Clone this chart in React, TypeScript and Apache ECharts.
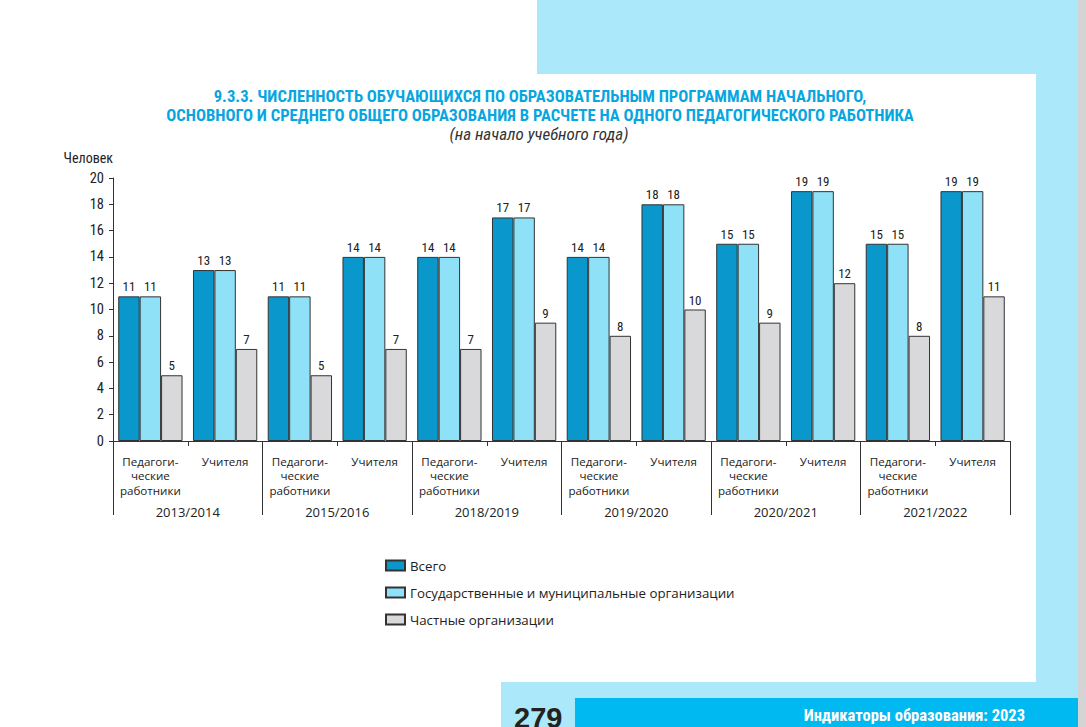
import React, { useEffect, useRef } from "react";
import * as echarts from "echarts";

const years = ["2013/2014", "2015/2016", "2018/2019", "2019/2020", "2020/2021", "2021/2022"];
const subCats = ["Педагоги-\nческие\nработники", "Учителя"];
const totalValues = [11, 13, 11, 14, 14, 17, 14, 18, 15, 19, 15, 19];
const publicValues = [11, 13, 11, 14, 14, 17, 14, 18, 15, 19, 15, 19];
const privateValues = [5, 7, 5, 7, 7, 9, 8, 10, 9, 12, 8, 11];
const seriesNames = ["Всего", "Государственные и муниципальные организации", "Частные организации"];
const yTicks = { min: 0, max: 20, interval: 2 };

const NARROW = "'Liberation Sans Narrow', 'Arial Narrow', 'Roboto Condensed', sans-serif";
const BODY = "'Open Sans', 'Noto Sans', sans-serif";

export default function App() {
  const ref = useRef<HTMLDivElement>(null);
  useEffect(() => {
    if (!ref.current) return;
    const chart = echarts.init(ref.current, undefined, { renderer: "svg" });
    const categories: string[] = [];
    years.forEach(() => subCats.forEach((s) => categories.push(s)));
    const colors = ["#0a98cc", "#8fe1f7", "#d9d9db"];
    const label = {
      show: true,
      position: "top" as const,
      distance: 3,
      fontSize: 13,
      color: "#222",
      fontFamily: NARROW,
    };
    const mk = (name: string, data: number[], i: number) => ({
      name,
      type: "bar" as const,
      data,
      xAxisIndex: 0,
      barGap: "0%",
      barCategoryGap: "14%",
      itemStyle: { color: colors[i], borderColor: "#333", borderWidth: 1 },
      label,
    });
    chart.setOption({
      animation: false,
      backgroundColor: "#ffffff",
      title: [
        {
          text: "9.3.3. ЧИСЛЕННОСТЬ ОБУЧАЮЩИХСЯ ПО ОБРАЗОВАТЕЛЬНЫМ ПРОГРАММАМ НАЧАЛЬНОГО,\nОСНОВНОГО И СРЕДНЕГО ОБЩЕГО ОБРАЗОВАНИЯ В РАСЧЕТЕ НА ОДНОГО ПЕДАГОГИЧЕСКОГО РАБОТНИКА",
          left: 540,
          top: 87,
          padding: 0,
          textAlign: "center",
          textStyle: {
            fontFamily: NARROW,
            fontWeight: "bold",
            fontSize: 16.6,
            lineHeight: 19,
            color: "#08a6e0",
          },
        },
        {
          text: "(на начало учебного года)",
          left: 539,
          top: 125.5,
          padding: 0,
          textAlign: "center",
          textStyle: {
            fontFamily: NARROW,
            fontStyle: "italic",
            fontWeight: "normal",
            fontSize: 17,
            lineHeight: 16,
            color: "#333",
          },
        },
      ],
      legend: {
        orient: "vertical",
        left: 380,
        top: 554,
        itemWidth: 19,
        itemHeight: 10,
        itemGap: 14,
        icon: "rect",
        textStyle: { fontFamily: BODY, fontSize: 13.3, color: "#222" },
        data: seriesNames,
      },
      grid: { left: 113, right: 76, top: 178, bottom: 286, containLabel: false },
      xAxis: [
        {
          type: "category",
          data: categories,
          axisLine: { lineStyle: { color: "#333", width: 1 } },
          axisTick: { show: true, length: 5, lineStyle: { color: "#333" } },
          axisLabel: {
            interval: 0,
            margin: 13,
            fontFamily: BODY,
            fontSize: 11.6,
            lineHeight: 14.4,
            color: "#222",
            verticalAlign: "top",
          },
        },
        {
          type: "category",
          data: years,
          position: "bottom",
          axisLine: { show: false },
          axisTick: { show: true, length: 74, lineStyle: { color: "#333" } },
          axisLabel: {
            interval: 0,
            margin: 64,
            fontFamily: BODY,
            fontSize: 13,
            color: "#222",
          },
        },
      ],
      yAxis: {
        type: "value",
        ...yTicks,
        name: "Человек",
        nameLocation: "end",
        nameGap: 13,
        nameTextStyle: { fontFamily: NARROW, fontSize: 14, color: "#222", align: "right", padding: [0, 0, 0, 0] },
        axisLine: { show: true, lineStyle: { color: "#333" } },
        axisTick: { show: true, length: 4, lineStyle: { color: "#333" } },
        splitLine: { show: false },
        axisLabel: { fontFamily: NARROW, fontSize: 14.5, color: "#222", margin: 9 },
      },
      series: [mk(seriesNames[0], totalValues, 0), mk(seriesNames[1], publicValues, 1), mk(seriesNames[2], privateValues, 2)],
      graphic: [
        { type: "rect", silent: true, z: -10, shape: { x: 537, y: 0, width: 541, height: 74 }, style: { fill: "#abe8f9" } },
        { type: "rect", silent: true, z: -10, shape: { x: 1036, y: 74, width: 42, height: 624 }, style: { fill: "#abe8f9" } },
        { type: "rect", silent: true, z: -10, shape: { x: 501, y: 682, width: 577, height: 45 }, style: { fill: "#abe8f9" } },
        { type: "rect", silent: true, z: -10, shape: { x: 575, y: 698, width: 503, height: 29 }, style: { fill: "#00b9f1" } },
        { type: "rect", silent: true, z: -10, shape: { x: 1078, y: 0, width: 8, height: 727 }, style: { fill: "#d4d4d4" } },
        {
          type: "text",
          silent: true,
          x: 1025,
          y: 715,
          style: {
            text: "Индикаторы образования: 2023",
            fill: "#ffffff",
            fontFamily: NARROW,
            fontWeight: "bold",
            fontSize: 16.5,
            align: "right",
            verticalAlign: "middle",
          },
        },
        {
          type: "text",
          silent: true,
          x: 514,
          y: 703,
          style: {
            text: "279",
            fill: "#222",
            fontFamily: "'Liberation Sans', sans-serif",
            fontWeight: "bold",
            fontSize: 29,
            align: "left",
            verticalAlign: "top",
          },
        },
      ],
    });
    return () => chart.dispose();
  }, []);
  return (
    <div
      ref={ref}
      style={{ position: "fixed", left: 0, top: 0, width: 1086, height: 727 }}
    />
  );
}
